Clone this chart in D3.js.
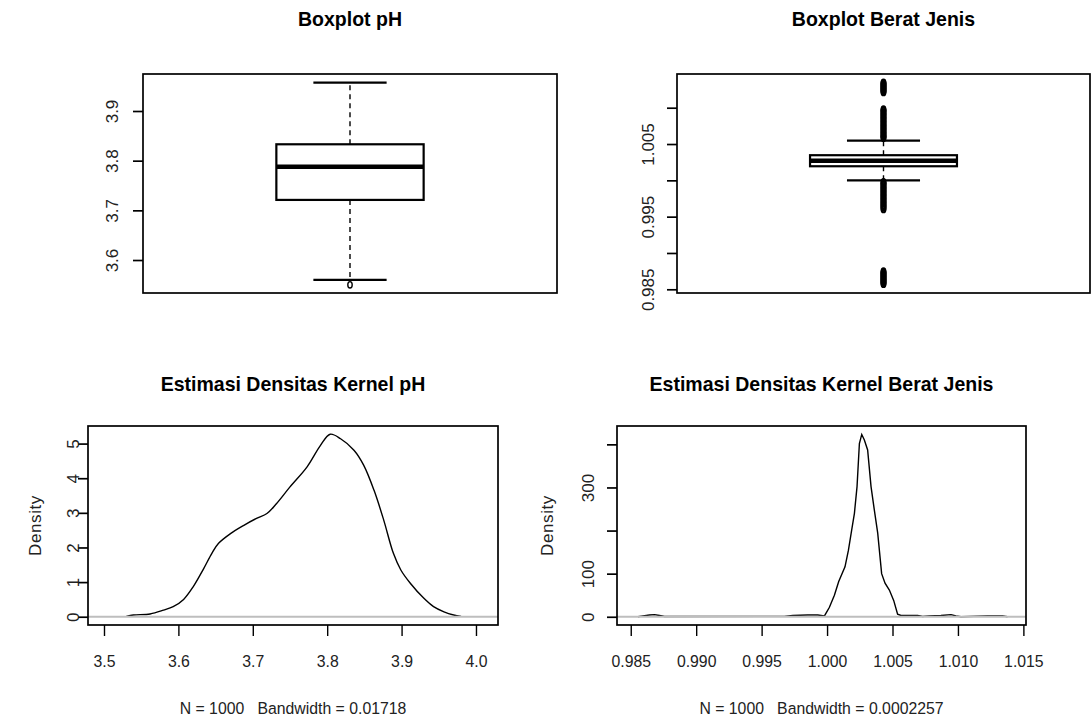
<!DOCTYPE html>
<html>
<head>
<meta charset="utf-8">
<script src="https://cdn.jsdelivr.net/npm/d3@7"></script>
<style>
  html, body { margin: 0; padding: 0; background: #fff; }
  svg { display: block; }
  .title { font-family: "Liberation Sans", Arial, sans-serif; font-weight: bold; font-size: 21px; fill: #000; }
  .tick text, .lbl { font-family: "Liberation Sans", Arial, sans-serif; font-size: 17px; fill: #222; white-space: pre; }
</style>
</head>
<body>
<svg id="chart" width="1091" height="722"></svg>
<script>
// ---------- DATA ----------
// Boxplot pH (five-number summary + outliers)
const phStats = { lowerWhisker: 3.560, q1: 3.721, median: 3.788, q3: 3.833, upperWhisker: 3.957 };
const phOutliers = [3.550];
const phBoxTicks = [3.6, 3.7, 3.8, 3.9];
const phBoxTickLabels = ["3.6", "3.7", "3.8", "3.9"];

// Boxplot Berat Jenis
const bjStats = { lowerWhisker: 1.0000, q1: 1.00194, median: 1.0027, q3: 1.00346, upperWhisker: 1.00546 };
const bjOutliers = [
  1.01210, 1.01220, 1.01230, 1.01240, 1.01250, 1.01260, 1.01270, 1.01280, 1.01290, 1.01300, 1.01310, 1.01320, 1.01330, 1.01340, 1.01350,
  1.00580, 1.00590, 1.00600, 1.00610, 1.00620, 1.00635, 1.00650, 1.00660, 1.00670, 1.00685, 1.00700, 1.00710, 1.00720, 1.00735,
  1.00750, 1.00760, 1.00770, 1.00785, 1.00800, 1.00810, 1.00820, 1.00835, 1.00850, 1.00860, 1.00870, 1.00885, 1.00900, 1.00910,
  1.00920, 1.00935, 1.00950, 1.00960, 1.00970, 1.00980,
  0.99980, 0.99970, 0.99960, 0.99950, 0.99940, 0.99925, 0.99910, 0.99900, 0.99890, 0.99875, 0.99860, 0.99850, 0.99840, 0.99825,
  0.99810, 0.99800, 0.99790, 0.99775, 0.99760, 0.99750, 0.99740, 0.99725, 0.99710, 0.99700, 0.99690, 0.99675, 0.99660, 0.99650,
  0.99640, 0.99625, 0.99610, 0.99600,
  0.98570, 0.98580, 0.98590, 0.98600, 0.98610, 0.98620, 0.98630, 0.98640, 0.98650, 0.98660, 0.98670, 0.98680, 0.98690, 0.98700,
  0.98710, 0.98720, 0.98730, 0.98740, 0.98750
];
const bjBoxTicks = [0.985, 0.990, 0.995, 1.000, 1.005, 1.010];
const bjBoxTickLabels = ["0.985", "", "0.995", "", "1.005", ""];

// Kernel density pH
const phDensX = [3.530, 3.5395, 3.562, 3.580, 3.593, 3.607, 3.620, 3.634, 3.645, 3.654, 3.670, 3.688, 3.705, 3.719, 3.732, 3.750, 3.773, 3.791, 3.804, 3.818, 3.836, 3.849, 3.863, 3.876, 3.889, 3.899, 3.912, 3.930, 3.943, 3.957, 3.970, 3.980];
const phDensY = [0.01, 0.05, 0.08, 0.19, 0.29, 0.50, 0.87, 1.39, 1.83, 2.12, 2.40, 2.64, 2.84, 2.98, 3.27, 3.75, 4.33, 4.95, 5.27, 5.14, 4.81, 4.38, 3.65, 2.79, 1.83, 1.35, 0.96, 0.53, 0.29, 0.14, 0.05, 0.01];
const phDensXTicks = [3.5, 3.6, 3.7, 3.8, 3.9, 4.0];
const phDensXLabels = ["3.5", "3.6", "3.7", "3.8", "3.9", "4.0"];
const phDensYTicks = [0, 1, 2, 3, 4, 5];
const phDensYLabels = ["0", "1", "2", "3", "4", "5"];

// Kernel density Berat Jenis
const bjDensX = [0.98555, 0.98593, 0.98644, 0.98682, 0.98720, 0.98758, 0.99674, 0.99738, 0.99852, 0.99929, 0.99980, 1.00018, 1.00056, 1.00089, 1.00137, 1.00163, 1.00188, 1.00209, 1.00229, 1.00247, 1.00265, 1.00285, 1.00310, 1.00336, 1.00361, 1.00387, 1.00417, 1.00443, 1.00476, 1.00509, 1.00539, 1.00565, 1.00692, 1.00730, 1.00781, 1.00870, 1.00947, 1.00985, 1.01023, 1.01226, 1.01341, 1.01379];
const bjDensY = [0, 2, 4, 5, 3, 0.5, 1, 3, 4, 4, 2, 22, 50, 82, 116, 154, 201, 240, 302, 402, 423, 410, 387, 302, 248, 194, 100, 78, 62, 38, 6, 3, 3, 0.5, 2, 3, 5, 2, 0, 2, 2, 0];
const bjDensXTicks = [0.985, 0.990, 0.995, 1.000, 1.005, 1.010, 1.015];
const bjDensXLabels = ["0.985", "0.990", "0.995", "1.000", "1.005", "1.010", "1.015"];
const bjDensYTicks = [0, 100, 200, 300, 400];
const bjDensYLabels = ["0", "100", "", "300", ""];

const titles = ["Boxplot pH", "Boxplot Berat Jenis", "Estimasi Densitas Kernel pH", "Estimasi Densitas Kernel Berat Jenis"];
const subLabels = ["N = 1000   Bandwidth = 0.01718", "N = 1000   Bandwidth = 0.0002257"];

// ---------- DRAW ----------
const svg = d3.select("#chart");
const SX = 0.93; // horizontal squeeze of all glyphs, as in the reference

function frame(g, x0, x1, y0, y1) {
  g.append("rect").attr("x", x0).attr("y", y0).attr("width", x1 - x0).attr("height", y1 - y0)
    .attr("fill", "none").attr("stroke", "#000").attr("stroke-width", 1.7);
}

function yAxisRotated(g, scale, x, ticks, labels, labelX) {
  const ax = g.append("g").attr("transform", `translate(${x},0)`)
    .call(d3.axisLeft(scale).tickValues(ticks).tickSize(10).tickFormat((d, i) => labels[i]));
  ax.select(".domain").remove();
  ax.selectAll(".tick line").attr("stroke", "#000").attr("stroke-width", 1.7);
  ax.selectAll(".tick text")
    .attr("x", null).attr("dy", null)
    .attr("text-anchor", "middle")
    .attr("transform", `translate(${labelX - x},0) scale(${SX},1) rotate(-90)`)
    .attr("dominant-baseline", "central");
  return ax;
}

function titleText(g, cx, y, txt) {
  g.append("text").attr("class", "title").attr("text-anchor", "middle")
    .attr("transform", `translate(${cx},${y}) scale(${SX},1)`).text(txt);
}

function boxplot(panel) {
  const g = svg.append("g");
  const { x0, x1, y0, y1, yDomain, stats, outliers, ticks, tickLabels, labelX, title } = panel;
  const y = d3.scaleLinear().domain(yDomain).range([y1, y0]);
  const x = d3.scaleLinear().domain([0.48, 1.52]).range([x0, x1]);
  const cx = x(1), bw = 0.185, cw = 0.092;

  // whiskers
  [[stats.q3, stats.upperWhisker], [stats.q1, stats.lowerWhisker]].forEach(([a, b]) => {
    g.append("line").attr("x1", cx).attr("x2", cx).attr("y1", y(a)).attr("y2", y(b))
      .attr("stroke", "#000").attr("stroke-width", 1.4).attr("stroke-dasharray", "5,4");
  });
  [stats.upperWhisker, stats.lowerWhisker].forEach(v => {
    g.append("line").attr("x1", x(1 - cw)).attr("x2", x(1 + cw)).attr("y1", y(v)).attr("y2", y(v))
      .attr("stroke", "#000").attr("stroke-width", 2.2);
  });
  // box
  g.append("rect").attr("x", x(1 - bw)).attr("width", x(1 + bw) - x(1 - bw))
    .attr("y", y(stats.q3)).attr("height", y(stats.q1) - y(stats.q3))
    .attr("fill", "#fff").attr("stroke", "#000").attr("stroke-width", 2.2);
  g.append("line").attr("x1", x(1 - bw)).attr("x2", x(1 + bw)).attr("y1", y(stats.median)).attr("y2", y(stats.median))
    .attr("stroke", "#000").attr("stroke-width", 4.5);
  // outliers
  g.selectAll("ellipse.out").data(outliers).enter().append("ellipse")
    .attr("cx", cx).attr("cy", d => y(d)).attr("rx", 2.2).attr("ry", 3.2)
    .attr("fill", "none").attr("stroke", "#000").attr("stroke-width", 1.4);

  frame(g, x0, x1, y0, y1);
  yAxisRotated(g, y, x0, ticks, tickLabels, labelX);
  titleText(g, (x0 + x1) / 2, 26, title);
}

function density(panel) {
  const g = svg.append("g");
  const { x0, x1, y0, y1, xDomain, yDomain, xs, ys, xTicks, xLabels, yTicks, yLabels, labelX, densX, title, sub, curve } = panel;
  const x = d3.scaleLinear().domain(xDomain).range([x0, x1]);
  const y = d3.scaleLinear().domain(yDomain).range([y1, y0]);
  const pts = xs.map((v, i) => [v, ys[i]]);
  g.append("path").datum(pts)
    .attr("d", d3.line().x(d => x(d[0])).y(d => y(d[1])).curve(curve))
    .attr("fill", "none").attr("stroke", "#000").attr("stroke-width", 1.4);
  g.append("line").attr("x1", x0).attr("x2", x1).attr("y1", y(0)).attr("y2", y(0))
    .attr("stroke", "#bebebe").attr("stroke-width", 2);
  frame(g, x0, x1, y0, y1);
  yAxisRotated(g, y, x0, yTicks, yLabels, labelX);
  const xa = g.append("g").attr("transform", `translate(0,${y1})`)
    .call(d3.axisBottom(x).tickValues(xTicks).tickSize(11).tickPadding(19).tickFormat((d, i) => xLabels[i]));
  xa.select(".domain").remove();
  xa.selectAll(".tick line").attr("stroke", "#000").attr("stroke-width", 1.4);
  xa.selectAll(".tick text").attr("transform", `scale(${SX},1)`);
  g.append("text").attr("class", "lbl").attr("text-anchor", "middle")
    .attr("transform", `translate(${densX},${(y0 + y1) / 2}) scale(${SX},1) rotate(-90)`)
    .attr("dominant-baseline", "central").attr("letter-spacing", "0.6px").text("Density");
  titleText(g, (x0 + x1) / 2, 391, title);
  g.append("text").attr("class", "lbl").attr("text-anchor", "middle")
    .attr("transform", `translate(${(x0 + x1) / 2},714) scale(${SX},1)`).text(sub);
}

boxplot({ x0: 143, x1: 557, y0: 74, y1: 293, yDomain: [3.5336, 3.9745], stats: phStats, outliers: phOutliers,
  ticks: phBoxTicks, tickLabels: phBoxTickLabels, labelX: 112, title: titles[0] });
boxplot({ x0: 677, x1: 1090, y0: 74, y1: 293, yDomain: [0.98449, 1.01464], stats: bjStats, outliers: bjOutliers,
  ticks: bjBoxTicks, tickLabels: bjBoxTickLabels, labelX: 648, title: titles[1] });

density({ x0: 88, x1: 498, y0: 426, y1: 625, xDomain: [3.4785, 4.0296], yDomain: [-0.239, 5.508],
  xs: phDensX, ys: phDensY, xTicks: phDensXTicks, xLabels: phDensXLabels, yTicks: phDensYTicks, yLabels: phDensYLabels,
  labelX: 73, densX: 35, title: titles[2], sub: subLabels[0], curve: d3.curveCatmullRom });
density({ x0: 617, x1: 1026, y0: 426, y1: 625, xDomain: [0.98395, 1.0152], yDomain: [-19.1, 442.6],
  xs: bjDensX, ys: bjDensY, xTicks: bjDensXTicks, xLabels: bjDensXLabels, yTicks: bjDensYTicks, yLabels: bjDensYLabels,
  labelX: 588, densX: 547, title: titles[3], sub: subLabels[1], curve: d3.curveLinear });
</script>
</body>
</html>
